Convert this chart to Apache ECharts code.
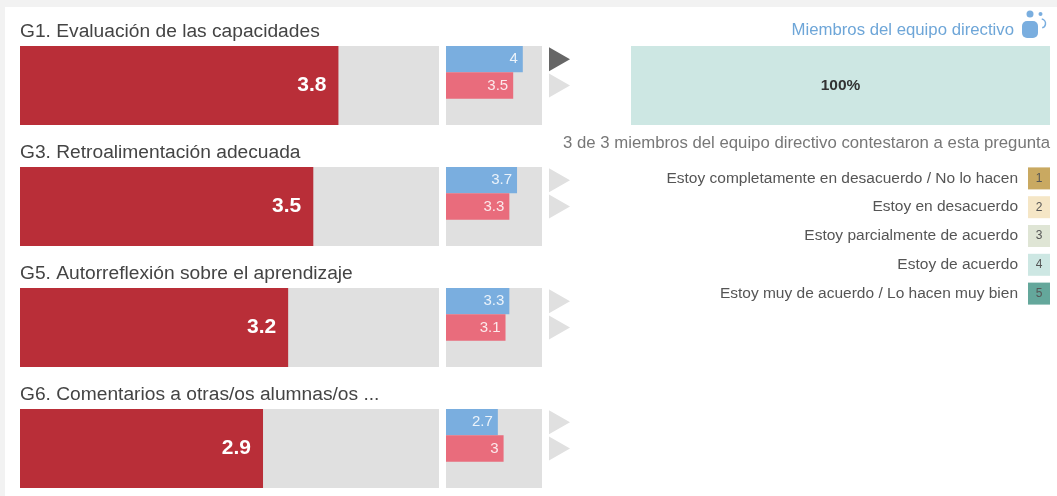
<!DOCTYPE html>
<html>
<head>
<meta charset="utf-8">
<title>Capacidades</title>
<style>
  html, body { margin: 0; width: 1057px; height: 496px; overflow: hidden; background: #f2f2f2; }
  #card { position: absolute; left: 5px; top: 7px; width: 1052px; height: 489px; background: #fff; }
  #main { position: absolute; left: 0; top: 0; width: 1057px; height: 496px; }
</style>
</head>
<body>
<div id="card"></div>
<div id="main"></div>
<script src="https://cdn.jsdelivr.net/npm/echarts@6/dist/echarts.min.js"></script>
<script>
const questions = [
  'G1. Evaluación de las capacidades',
  'G3. Retroalimentación adecuada',
  'G5. Autorreflexión sobre el aprendizaje',
  'G6. Comentarios a otras/os alumnas/os ...'
];
const mainValues = [3.8, 3.5, 3.2, 2.9];
const blueValues = [4, 3.7, 3.3, 2.7];
const pinkValues = [3.5, 3.3, 3.1, 3];
// which arrow of each row is dark: [upper, lower]
const arrowsOn = [[1, 0], [0, 0], [0, 0], [0, 0]];

const agreeLabels = [
  'Estoy completamente en desacuerdo / No lo hacen',
  'Estoy en desacuerdo',
  'Estoy parcialmente de acuerdo',
  'Estoy de acuerdo',
  'Estoy muy de acuerdo / Lo hacen muy bien'
];
const agreeLevels = [1, 2, 3, 4, 5];
const agreeColors = ['#c9a961', '#f5e6c6', '#dfe5d5', '#cde7e3', '#64a79b'];
const agreeShares = [0, 0, 0, 100, 0];

const FONT = '"Liberation Sans", Arial, sans-serif';
const GREY = '#e0e0e0';
const rowTops = [46, 167, 288, 409];
const ROW_H = 79;

const grids = [];
const xAxes = [];
const yAxes = [];
const series = [];
const titles = [];

function addGrid (left, width, top, height, bg, xMax, cats) {
  const i = grids.length;
  grids.push({
    left: left,
    top: top,
    width: width,
    height: height,
    show: !!bg,
    backgroundColor: bg || 'transparent',
    borderWidth: 0
  });
  xAxes.push({ type: 'value', gridIndex: i, min: 0, max: xMax, show: false });
  yAxes.push({ type: 'category', gridIndex: i, data: cats, inverse: true, show: false });
  return i;
}

questions.forEach(function (q, r) {
  const top = rowTops[r];
  titles.push({
    text: q,
    left: 20,
    top: top - 24,
    padding: 0,
    textStyle: { fontFamily: FONT, fontSize: 19.2, fontWeight: 'normal', color: '#444' }
  });

  // barra grande
  const g1 = addGrid(20, 419, top, ROW_H, GREY, 5, [q]);
  series.push({
    type: 'bar',
    xAxisIndex: g1,
    yAxisIndex: g1,
    data: [mainValues[r]],
    barWidth: '100%',
    itemStyle: { color: '#b92e38' },
    label: {
      show: true,
      position: 'insideRight',
      distance: 12,
      fontFamily: FONT,
      fontSize: 21,
      fontWeight: 'bold',
      color: '#fff'
    }
  });

  // barras pequeñas
  const g2 = addGrid(446, 96, top, ROW_H, GREY, 5, ['a', 'b', 'c']);
  series.push({
    type: 'bar',
    xAxisIndex: g2,
    yAxisIndex: g2,
    barWidth: '100%',
    barGap: '-100%',
    data: [
      { value: blueValues[r], itemStyle: { color: '#7aaedf' } },
      { value: pinkValues[r], itemStyle: { color: '#e96c7c' } },
      null
    ],
    label: {
      show: true,
      position: 'insideRight',
      distance: 5,
      fontFamily: FONT,
      fontSize: 15,
      color: '#fff',
      opacity: 0.85
    }
  });

  // flechas
  const g3 = addGrid(549, 21, top, ROW_H, null, 1, ['a', 'b', 'c']);
  series.push({
    type: 'scatter',
    xAxisIndex: g3,
    yAxisIndex: g3,
    symbol: 'path://M0,0L1,0.5L0,1Z',
    symbolSize: [21, 24],
    data: arrowsOn[r].map(function (on, k) {
      return {
        value: [0.5, k],
        itemStyle: { color: on ? '#666' : GREY, opacity: 1 }
      };
    })
  });
});

// barra de respuestas
const gBar = addGrid(631, 419, rowTops[0], ROW_H, null, 100, ['equipo']);
agreeLevels.forEach(function (lv, k) {
  series.push({
    type: 'bar',
    stack: 'share',
    xAxisIndex: gBar,
    yAxisIndex: gBar,
    barWidth: '100%',
    data: [agreeShares[k]],
    itemStyle: { color: agreeColors[k] },
    label: {
      show: agreeShares[k] > 0,
      position: 'inside',
      formatter: '{c}%',
      fontFamily: FONT,
      fontSize: 15.5,
      fontWeight: 'bold',
      color: '#333'
    }
  });
});

// leyenda de la escala
const gLeg = grids.length;
grids.push({ left: 1028, top: 164, width: 22, height: 144, show: false });
xAxes.push({ type: 'value', gridIndex: gLeg, min: 0, max: 1, show: false });
yAxes.push({
  type: 'category',
  gridIndex: gLeg,
  data: agreeLabels,
  inverse: true,
  axisLine: { show: false },
  axisTick: { show: false },
  axisLabel: {
    interval: 0,
    margin: 10,
    fontFamily: FONT,
    fontSize: 15.5,
    color: '#555'
  }
});
series.push({
  type: 'scatter',
  xAxisIndex: gLeg,
  yAxisIndex: gLeg,
  symbol: 'rect',
  symbolSize: 22,
  data: agreeLevels.map(function (lv, k) {
    return { value: [0.5, k], level: lv, itemStyle: { color: agreeColors[k], opacity: 1 } };
  }),
  label: {
    show: true,
    position: 'inside',
    formatter: function (p) { return p.data.level; },
    fontFamily: FONT,
    fontSize: 12,
    color: '#555'
  }
});

titles.push({
  text: 'Miembros del equipo directivo',
  right: 43,
  top: 22,
  padding: 0,
  textStyle: { fontFamily: FONT, fontSize: 16.75, fontWeight: 'normal', color: '#6ea6d8' }
});
titles.push({
  text: '3 de 3 miembros del equipo directivo contestaron a esta pregunta',
  right: 7,
  top: 135,
  padding: 0,
  textStyle: { fontFamily: FONT, fontSize: 16.75, fontWeight: 'normal', color: '#777' }
});

const myChart = echarts.init(document.getElementById('main'));
myChart.setOption({
  animation: false,
  title: titles,
  grid: grids,
  xAxis: xAxes,
  yAxis: yAxes,
  series: series,
  graphic: [
    { type: 'circle', shape: { cx: 1030, cy: 14, r: 3.5 }, style: { fill: '#7aaedf' } },
    { type: 'circle', shape: { cx: 1040.5, cy: 14, r: 2 }, style: { fill: '#7aaedf' } },
    { type: 'rect', shape: { x: 1022, y: 21, width: 16, height: 17, r: 5 }, style: { fill: '#7aaedf' } },
    {
      type: 'arc',
      shape: { cx: 1041, cy: 23.5, r: 4.5, startAngle: -1.4, endAngle: 1.3 },
      style: { stroke: '#7aaedf', lineWidth: 1.5, fill: null }
    }
  ]
});
</script>
</body>
</html>
